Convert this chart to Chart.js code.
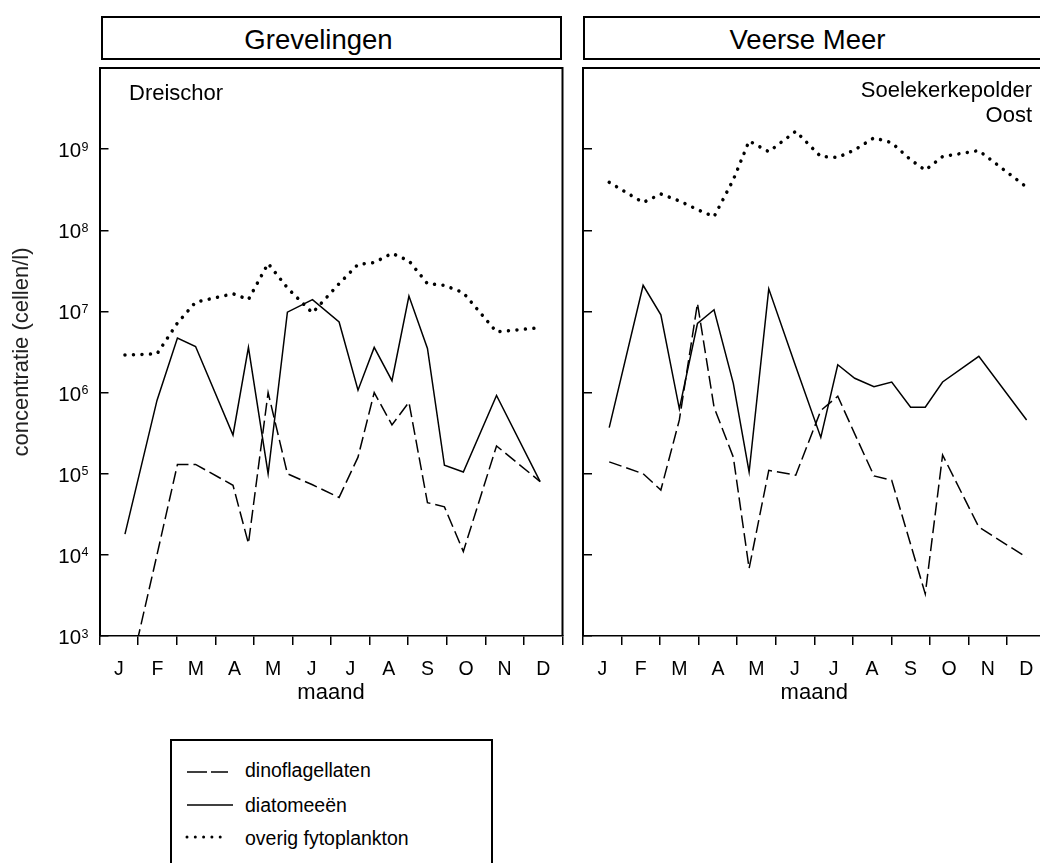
<!DOCTYPE html>
<html>
<head>
<meta charset="utf-8">
<title>Fytoplankton concentraties</title>
<script src="https://cdn.jsdelivr.net/npm/chart.js@4/dist/chart.umd.min.js"></script>
<style>
  html, body { margin: 0; padding: 0; width: 1040px; height: 863px; overflow: hidden; background: #fff;
    font-family: "Liberation Sans", Arial, sans-serif; color: #000; }
  canvas { position: absolute; top: 0; }
  .head { position: absolute; top: 16px; height: 44px; box-sizing: border-box; border: 2px solid #000;
    display: flex; align-items: center; justify-content: center; font-size: 27.5px; padding-top: 3px; background: #fff; }
  .site { position: absolute; font-size: 22px; line-height: 25px; }
  .legend { position: absolute; left: 170px; top: 739px; width: 323px; height: 150px; box-sizing: border-box; border: 2px solid #000; }
  .lg-text { position: absolute; left: 245px; font-size: 19.5px; line-height: 24px; white-space: nowrap; }
  .lg-line { position: absolute; left: 180px; width: 60px; height: 10px; overflow: visible; }
</style>
</head>
<body>
<div class="head" style="left:101px;width:461px;padding-right:26px;">Grevelingen</div>
<div class="head" style="left:583px;width:463px;padding-right:14px;">Veerse Meer</div>

<canvas id="grev" width="580" height="720" style="left:0;"></canvas>
<canvas id="veer" width="500" height="720" style="left:563px;"></canvas>

<div class="site" style="left:129px;top:80px;">Dreischor</div>
<div class="site" style="right:8px;top:77px;text-align:right;">Soelekerkepolder<br>Oost</div>

<div class="legend"></div>
<div id="legendItems"></div>

<script>
// Month axis
const monthLabels = ['J', 'F', 'M', 'A', 'M', 'J', 'J', 'A', 'S', 'O', 'N', 'D'];
// Decades shown on the concentration axis (10^n)
const yExponents = [3, 4, 5, 6, 7, 8, 9];
const seriesNames = ['dinoflagellaten', 'diatomeeën', 'overig fytoplankton'];

// Grevelingen, station Dreischor: sampling moments (month, 0 = 1 January) and cells per litre
const grevMonths = [0.66, 1.49, 2.02, 2.49, 3.46, 3.86, 4.37, 4.87, 5.52, 6.21, 6.70, 7.12, 7.58, 8.02, 8.50, 8.94, 9.43, 10.29, 11.42];
const grevDino   = [190, 1.0e4, 1.3e5, 1.3e5, 7.2e4, 1.38e4, 1.0e6, 1.0e5, 7.3e4, 5.1e4, 1.6e5, 1.0e6, 4.0e5, 7.6e5, 4.4e4, 3.9e4, 1.1e4, 2.2e5, 8.0e4];
const grevDiatom = [1.8e4, 8.0e5, 4.7e6, 3.7e6, 3.0e5, 3.6e6, 1.0e5, 9.8e6, 1.4e7, 7.4e6, 1.07e6, 3.6e6, 1.4e6, 1.55e7, 3.5e6, 1.27e5, 1.05e5, 9.2e5, 8.0e4];
const grevOverig = [2.9e6, 3.0e6, 7.2e6, 1.3e7, 1.65e7, 1.4e7, 3.9e7, 1.95e7, 9.6e6, 2.2e7, 3.8e7, 4.0e7, 5.2e7, 4.2e7, 2.2e7, 2.1e7, 1.7e7, 5.6e6, 6.3e6];

// Veerse Meer, station Soelekerkepolder Oost
const veerMonths = [0.68, 1.56, 2.02, 2.50, 2.97, 3.40, 3.90, 4.31, 4.82, 5.52, 6.17, 6.61, 7.05, 7.55, 8.01, 8.50, 8.88, 9.33, 10.27, 11.51];
const veerDino   = [1.4e5, 1.0e5, 6.3e4, 4.6e5, 1.26e7, 6.6e5, 1.6e5, 6.8e3, 1.1e5, 9.6e4, 6.0e5, 9.0e5, 3.1e5, 9.4e4, 8.3e4, 1.35e4, 3.3e3, 1.7e5, 2.2e4, 9.3e3];
const veerDiatom = [3.7e5, 2.1e7, 9.1e6, 6.3e5, 7.1e6, 1.05e7, 1.3e6, 1.05e5, 1.9e7, 2.1e6, 2.8e5, 2.2e6, 1.5e6, 1.18e6, 1.35e6, 6.6e5, 6.6e5, 1.35e6, 2.8e6, 4.6e5];
const veerOverig = [3.9e8, 2.2e8, 2.8e8, 2.3e8, 1.8e8, 1.47e8, 4.2e8, 1.26e9, 9.3e8, 1.66e9, 8.1e8, 7.9e8, 9.8e8, 1.38e9, 1.2e9, 7.4e8, 5.5e8, 8.1e8, 9.6e8, 3.4e8];

// Line styles: dashed, solid, dotted
const lineStyles = [
  { borderWidth: 1.5, borderDash: [13, 5], borderCapStyle: 'butt' },
  { borderWidth: 1.5, borderDash: [], borderCapStyle: 'butt' },
  { borderWidth: 3.5, borderDash: [0.01, 8.5], borderCapStyle: 'round' }
];

const FONT = '"Liberation Sans", Arial, sans-serif';
Chart.defaults.font.family = FONT;
Chart.defaults.color = '#000';

function pairs(xs, ys) { return xs.map((x, i) => ({ x: x, y: ys[i] })); }

// Closes the plot box on the top and right side
const frame = {
  id: 'frame',
  afterDraw(chart) {
    const { ctx, chartArea: a } = chart;
    ctx.save();
    ctx.strokeStyle = '#000';
    ctx.lineWidth = 2;
    ctx.beginPath();
    ctx.moveTo(a.left, a.top);
    ctx.lineTo(a.right, a.top);
    ctx.lineTo(a.right, a.bottom);
    ctx.stroke();
    ctx.restore();
  }
};

// Powers of ten with a raised exponent, placed at the log-scale ticks
const decadeLabels = {
  id: 'decadeLabels',
  afterDraw(chart, args, opts) {
    if (!opts.show) return;
    const { ctx } = chart;
    const y = chart.scales.y;
    const right = chart.chartArea.left - 11;
    ctx.save();
    ctx.fillStyle = '#000';
    ctx.textBaseline = 'alphabetic';
    yExponents.forEach(e => {
      const py = y.getPixelForValue(Math.pow(10, e));
      ctx.font = '12.5px ' + FONT;
      ctx.textAlign = 'right';
      const exp = String(e);
      ctx.fillText(exp, right, py + 1.5);
      const w = ctx.measureText(exp).width;
      ctx.font = '20.5px ' + FONT;
      ctx.fillText('10', right - w - 0.5, py + 8);
    });
    ctx.restore();
  }
};

function makeChart(id, months, values, withLabels) {
  const datasets = values.map((v, i) => Object.assign({
    label: seriesNames[i],
    data: pairs(months, v),
    borderColor: '#000',
    backgroundColor: '#000',
    pointRadius: 0,
    tension: 0,
    fill: false
  }, lineStyles[i]));

  return new Chart(document.getElementById(id), {
    type: 'line',
    data: { datasets: datasets },
    plugins: [frame, decadeLabels],
    options: {
      responsive: false,
      animation: false,
      devicePixelRatio: 1,
      layout: { padding: { top: 68, right: 17.5, left: 0, bottom: 0 } },
      plugins: {
        legend: { display: false },
        tooltip: { enabled: false },
        decadeLabels: { show: withLabels }
      },
      scales: {
        x: {
          type: 'linear',
          min: 0,
          max: 12,
          afterBuildTicks: s => { s.ticks = monthLabels.map((_, i) => ({ value: i + 0.5 })); },
          afterFit: s => { s.height = 84; },
          ticks: {
            autoSkip: false,
            maxRotation: 0,
            padding: 13,
            font: { size: 19.5 },
            color: '#000',
            callback: (v, i) => monthLabels[i]
          },
          grid: { offset: true, drawOnChartArea: false, drawTicks: true, tickLength: 9, color: '#000', lineWidth: 1.5 },
          border: { display: true, color: '#000', width: 1.5 },
          title: { display: true, text: 'maand', font: { size: 22 }, color: '#000', padding: { top: 0, bottom: 14 } }
        },
        y: {
          type: 'logarithmic',
          min: 1e3,
          max: 1e10,
          afterBuildTicks: s => { s.ticks = yExponents.map(e => ({ value: Math.pow(10, e) })); },
          afterFit: s => { s.width = withLabels ? 99.5 : 20; },
          ticks: { display: false },
          grid: { drawOnChartArea: false, drawTicks: true, tickLength: -9, color: '#000', lineWidth: 1.5 },
          border: { display: true, color: '#000', width: 2 },
          title: { display: withLabels, text: 'concentratie (cellen/l)', font: { size: 22 }, color: '#222', padding: { top: 9, bottom: 0 } }
        }
      }
    }
  });
}

const grevChart = makeChart('grev', grevMonths, [grevDino, grevDiatom, grevOverig], true);
makeChart('veer', veerMonths, [veerDino, veerDiatom, veerOverig], false);

// Legend built from the chart's own datasets
(function buildLegend() {
  const rows = [{ line: 772, text: 758 }, { line: 805, text: 793 }, { line: 837, text: 825.5 }];
  const holder = document.getElementById('legendItems');
  const svgNS = 'http://www.w3.org/2000/svg';
  grevChart.data.datasets.forEach((ds, i) => {
    const svg = document.createElementNS(svgNS, 'svg');
    svg.setAttribute('class', 'lg-line');
    svg.setAttribute('width', '60');
    svg.setAttribute('height', '10');
    svg.style.top = (rows[i].line - 5) + 'px';
    const ln = document.createElementNS(svgNS, 'line');
    const x2 = i === 1 ? 53 : (i === 0 ? 48 : 40.5);
    ln.setAttribute('x1', '7');
    ln.setAttribute('x2', String(x2));
    ln.setAttribute('y1', '5');
    ln.setAttribute('y2', '5');
    ln.setAttribute('stroke', ds.borderColor);
    ln.setAttribute('stroke-width', String(i === 2 ? 3 : ds.borderWidth));
    if (i === 0) ln.setAttribute('stroke-dasharray', '20 4');
    if (i === 2) { ln.setAttribute('stroke-dasharray', '0 8.3'); ln.setAttribute('stroke-linecap', 'round'); }
    svg.appendChild(ln);
    holder.appendChild(svg);

    const t = document.createElement('div');
    t.className = 'lg-text';
    t.style.top = rows[i].text + 'px';
    t.textContent = ds.label;
    holder.appendChild(t);
  });
})();
</script>
</body>
</html>
